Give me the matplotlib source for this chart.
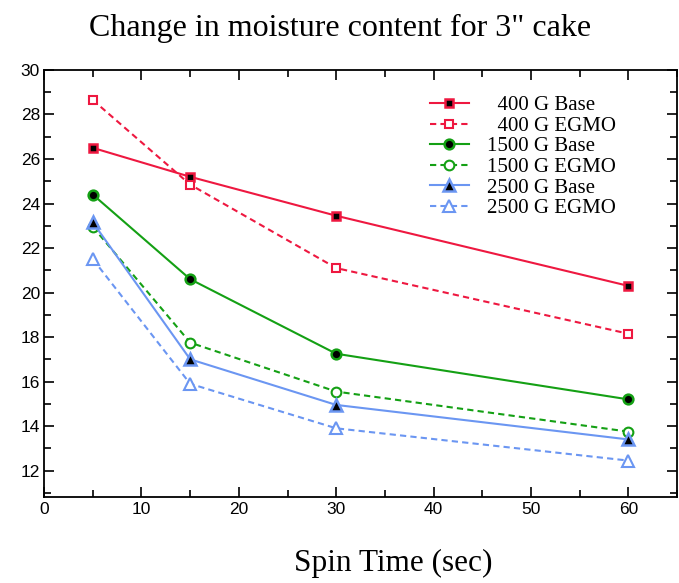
import numpy as np
import matplotlib.pyplot as plt
from matplotlib.ticker import MultipleLocator

# data
spin_time = [5, 15, 30, 60]
g400_base = [26.5, 25.2, 23.45, 20.3]
g400_egmo = [28.65, 24.85, 21.1, 18.15]
g1500_base = [24.4, 20.6, 17.25, 15.2]
g1500_egmo = [22.95, 17.75, 15.55, 13.75]
g2500_base = [23.15, 17.0, 14.95, 13.4]
g2500_egmo = [21.5, 15.9, 13.9, 12.45]

red = '#ee1840'
green = '#14a014'
blue = '#6b96f2'

fig = plt.figure(figsize=(6.79, 5.83), dpi=100)
ax = fig.add_axes([0.065, 0.147, 0.932, 0.733])

ax.plot(spin_time, g400_base, color=red, lw=1.5, marker='s', ms=6,
        mfc='black', mec=red, mew=1.8, label='  400 G Base')
ax.plot(spin_time, g400_egmo, color=red, lw=1.5, ls=(0, (3, 2)), marker='s', ms=6,
        mfc='white', mec=red, mew=1.5, label='  400 G EGMO')
ax.plot(spin_time, g1500_base, color=green, lw=1.5, marker='o', ms=7,
        mfc='black', mec=green, mew=1.8, label='1500 G Base')
ax.plot(spin_time, g1500_egmo, color=green, lw=1.5, ls=(0, (3, 2)), marker='o', ms=7,
        mfc='white', mec=green, mew=1.5, label='1500 G EGMO')
ax.plot(spin_time, g2500_base, color=blue, lw=1.5, marker='^', ms=8,
        mfc='black', mec=blue, mew=1.8, label='2500 G Base')
ax.plot(spin_time, g2500_egmo, color=blue, lw=1.5, ls=(0, (3, 2)), marker='^', ms=9,
        mfc='white', mec=blue, mew=1.5, label='2500 G EGMO')

ax.set_xlim(0, 65)
ax.set_ylim(10.8, 30)
ax.xaxis.set_major_locator(MultipleLocator(10))
ax.xaxis.set_minor_locator(MultipleLocator(5))
ax.yaxis.set_major_locator(MultipleLocator(2))
ax.yaxis.set_minor_locator(MultipleLocator(1))
ax.set_yticks(np.arange(12, 31, 2))
ax.tick_params(which='both', direction='in', top=True, right=True,
               labelfontfamily='Liberation Sans', labelsize=12.5, width=1.2)
ax.tick_params(which='major', length=7)
ax.tick_params(which='minor', length=5)
ax.tick_params(axis='y', pad=3)
for s in ax.spines.values():
    s.set_linewidth(1.3)

ax.set_title('Change in moisture content for 3" cake', family='Liberation Serif',
             fontsize=23, pad=24.5, x=0.467)
ax.set_xlabel('Spin Time (sec)', family='Liberation Serif', fontsize=22.5)
ax.xaxis.set_label_coords(0.551, -0.12)

ax.legend(loc='upper left', bbox_to_anchor=(0.61, 0.94), frameon=False,
          prop={'family': 'Liberation Serif', 'size': 15}, handlelength=1.85,
          labelspacing=0.05, handletextpad=0.9, borderpad=0, borderaxespad=0)

plt.savefig('out.png', dpi=100)
